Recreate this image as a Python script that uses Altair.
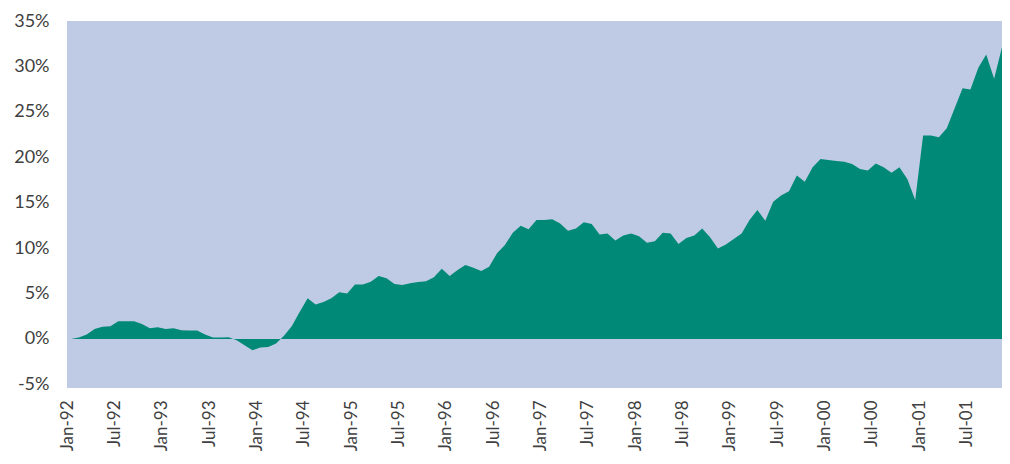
import altair as alt
import pandas as pd

# Monthly values (%), Jan-92 .. Nov-01
values = [
    0.0, 0.15, 0.5, 1.1, 1.35, 1.4, 1.95, 1.95, 1.95, 1.65, 1.17, 1.3,
    1.1, 1.17, 0.95, 0.93, 0.92, 0.5, 0.15, 0.15, 0.2, -0.15, -0.7, -1.25,
    -0.93, -0.88, -0.5, 0.35, 1.43, 3.0, 4.47, 3.8, 4.07, 4.47, 5.15, 4.99,
    6.0, 6.0, 6.3, 6.93, 6.67, 6.05, 5.94, 6.12, 6.27, 6.34, 6.78, 7.74,
    6.93, 7.59, 8.14, 7.85, 7.48, 7.96, 9.43, 10.34, 11.7, 12.47, 12.08, 13.09,
    13.09, 13.17, 12.7, 11.92, 12.16, 12.85, 12.65, 11.5, 11.6, 10.85, 11.4, 11.6,
    11.3, 10.6, 10.75, 11.7, 11.6, 10.45, 11.1, 11.4, 12.15, 11.2, 9.95, 10.4,
    11.0, 11.6, 13.1, 14.2, 13.0, 15.1, 15.8, 16.25, 18.0, 17.3, 18.9, 19.8,
    19.7, 19.6, 19.5, 19.25, 18.7, 18.55, 19.3, 18.9, 18.3, 18.9, 17.6, 15.3,
    22.4, 22.4, 22.2, 23.2, 25.4, 27.6, 27.45, 29.85, 31.3, 28.65, 32.1,
]

tick_labels = [
    "Jan-92", "Jul-92", "Jan-93", "Jul-93", "Jan-94", "Jul-94", "Jan-95", "Jul-95",
    "Jan-96", "Jul-96", "Jan-97", "Jul-97", "Jan-98", "Jul-98", "Jan-99", "Jul-99",
    "Jan-00", "Jul-00", "Jan-01", "Jul-01",
]

y_ticks = [-5, 0, 5, 10, 15, 20, 25, 30, 35]

df = pd.DataFrame({"month": list(range(len(values))), "value": values})
df["pos"] = df["month"] + 0.5

tick_positions = [6 * k for k in range(len(tick_labels))]
label_expr = "[" + ",".join("'" + t + "'" for t in tick_labels) + "][round(datum.value / 6)]"

FONT = "Lato"
TEXT = "#404040"

chart = (
    alt.Chart(df)
    .mark_area(color="#008976", interpolate="linear")
    .encode(
        x=alt.X(
            "pos:Q",
            scale=alt.Scale(domain=[0, 118.5], nice=False, zero=False),
            axis=alt.Axis(
                values=tick_positions,
                labelExpr=label_expr,
                labelAngle=-90,
                labelFont=FONT,
                labelFontSize=17,
                labelColor=TEXT,
                labelPadding=12,
                ticks=False,
                tickSize=0,
                domain=False,
                grid=False,
                title=None,
                labelOverlap=False,
            ),
        ),
        y=alt.Y(
            "value:Q",
            scale=alt.Scale(domain=[-5.4, 35], nice=False, zero=False),
            stack=None,
            axis=alt.Axis(
                values=y_ticks,
                labelExpr="datum.value + '%'",
                labelFont=FONT,
                labelFontSize=18,
                labelColor=TEXT,
                labelPadding=18,
                ticks=False,
                tickSize=0,
                domain=False,
                grid=False,
                title=None,
                minExtent=59,
                maxExtent=59,
            ),
        ),
        y2=alt.datum(0),
    )
    .properties(
        width=935,
        height=367,
        padding={"left": 0, "top": 4, "right": 0, "bottom": 0},
        background="white",
    )
    .configure_view(fill="#BFCBE4", strokeWidth=0)
)

chart.save("out.html", embed_options={"renderer": "svg", "actions": False})
